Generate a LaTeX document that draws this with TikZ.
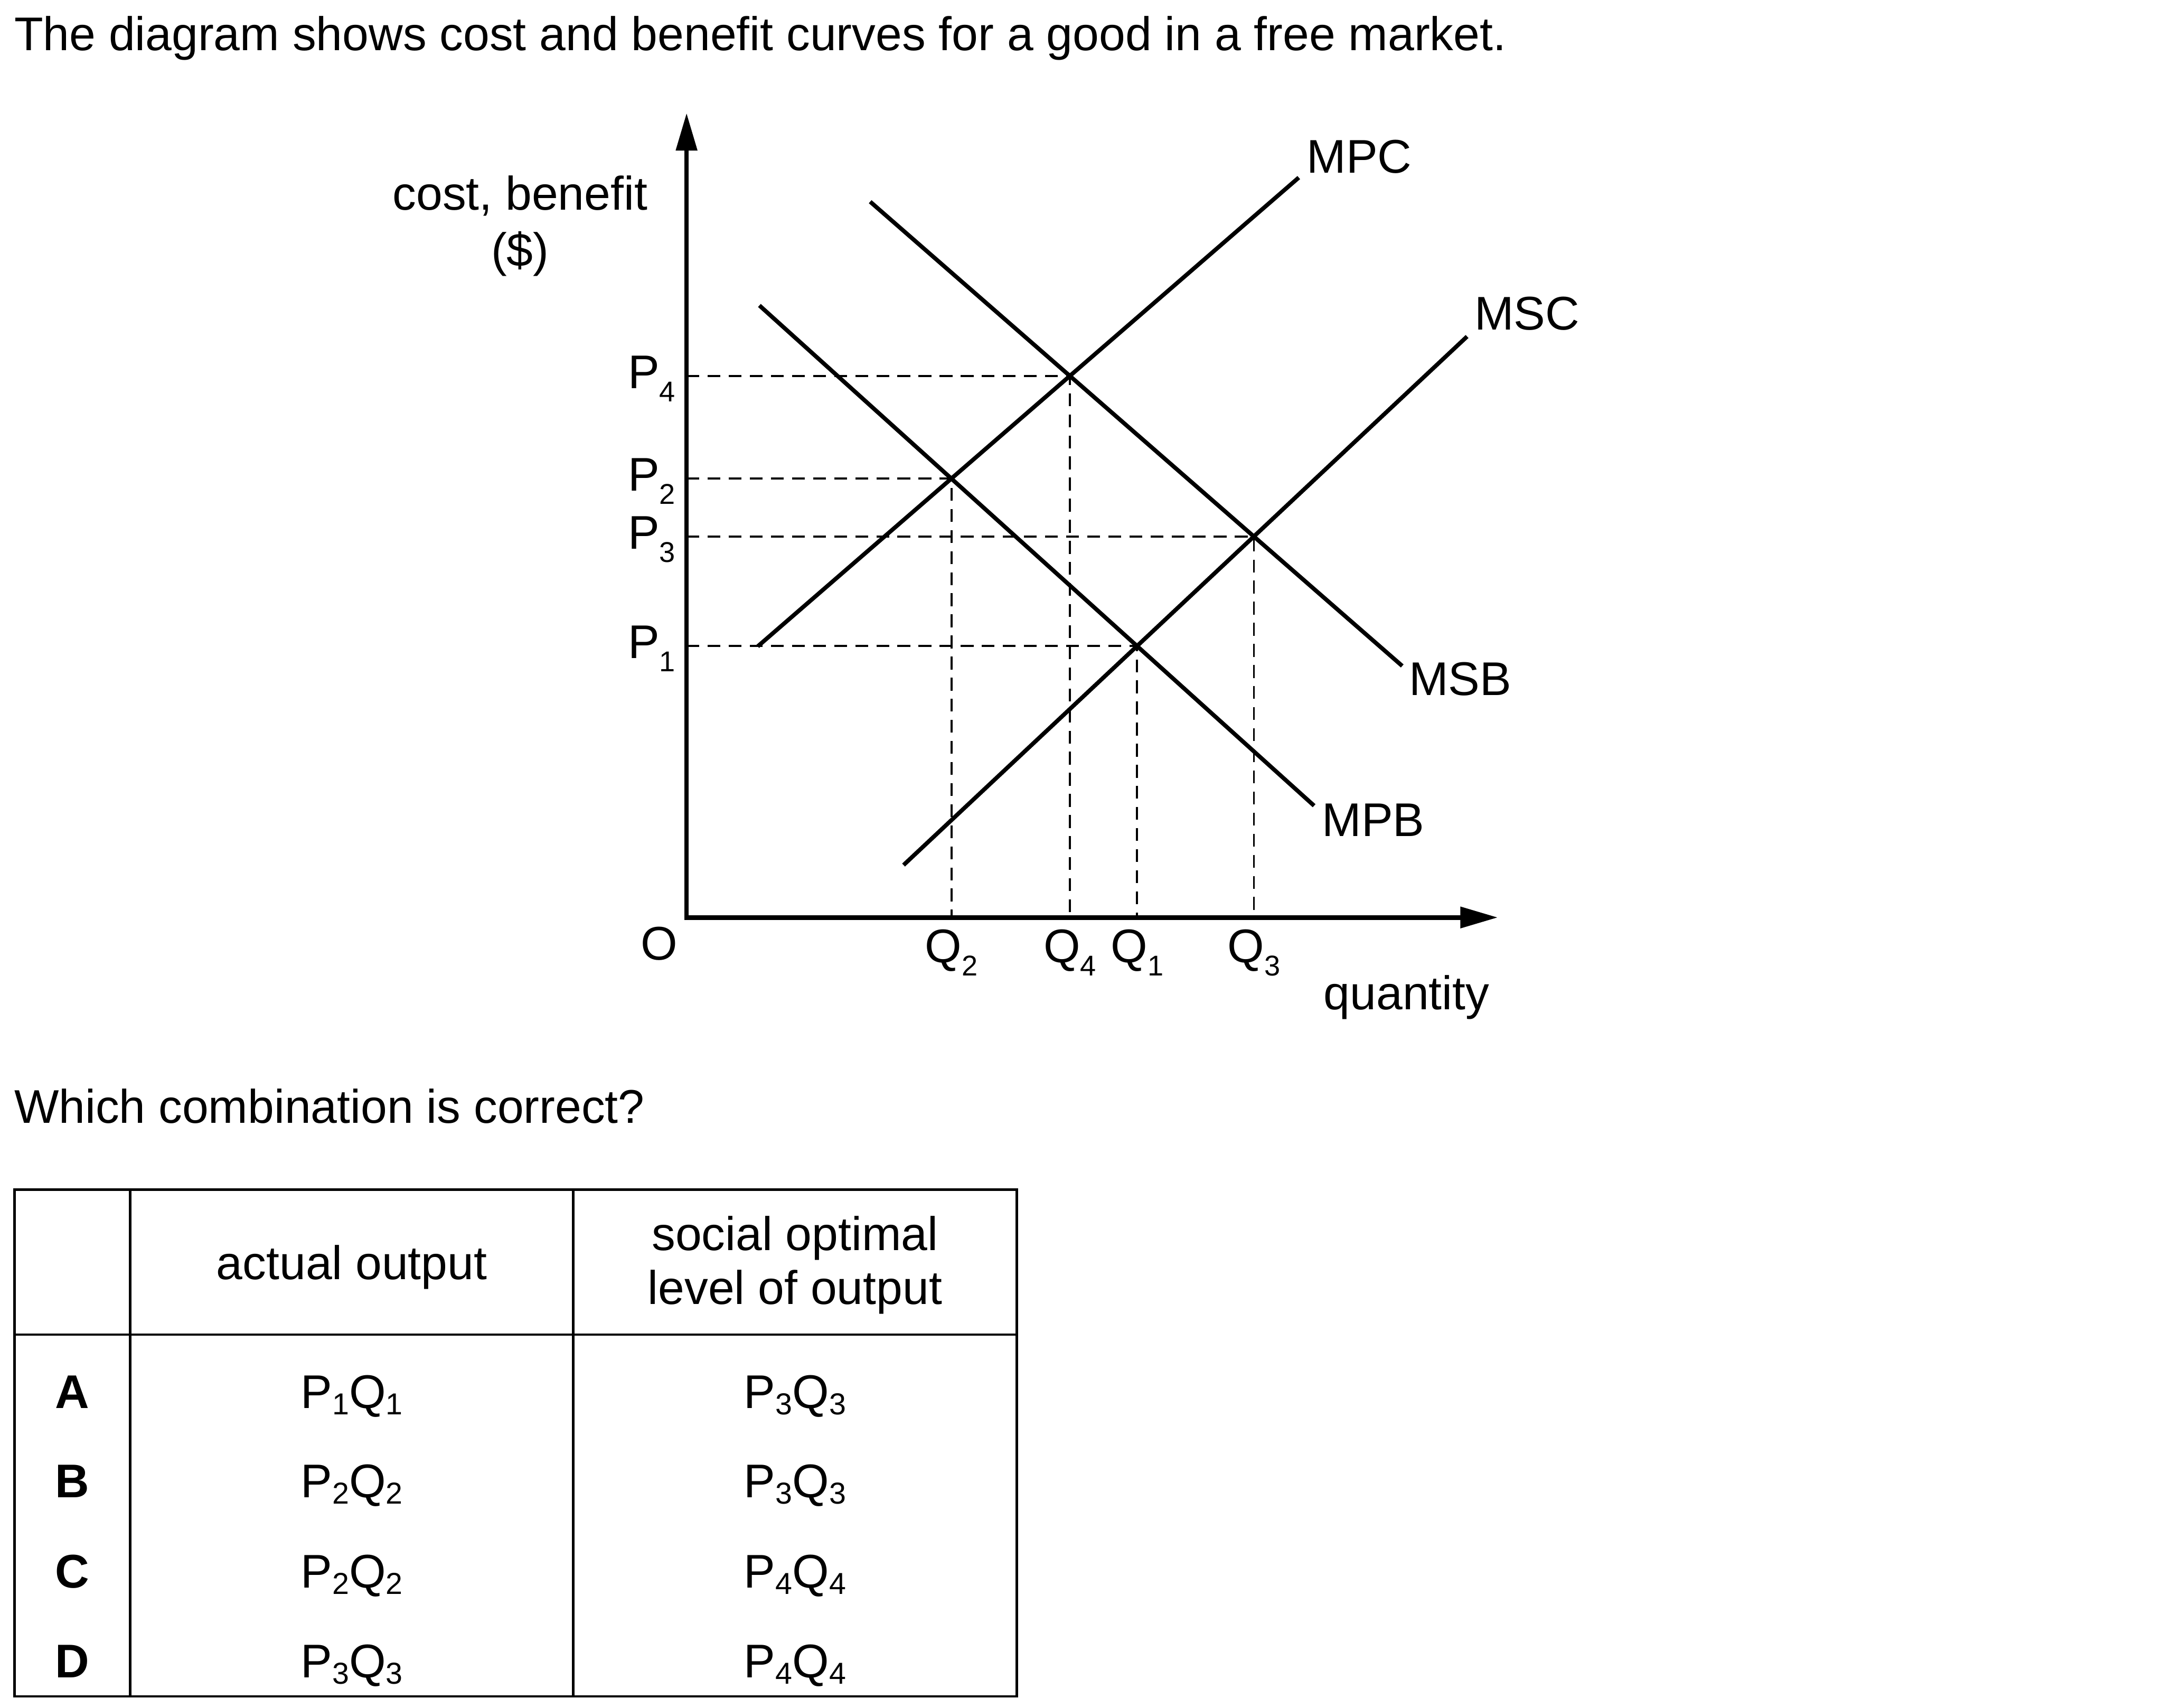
\documentclass[tikz,border=0pt]{standalone}
\usepackage{fontspec}
\setmainfont{Liberation Sans}
\usetikzlibrary{arrows.meta, calc}
\newcommand{\lowidx}[1]{\raisebox{-5.4pt}{\fontsize{11.8}{12}\selectfont #1}}
\newcommand{\tabidx}[1]{\raisebox{-2.6pt}{\fontsize{12.5}{13}\selectfont #1}}

\begin{document}
\begin{tikzpicture}[
  x=0.02cm, y=-0.02cm,
  txt/.style={font=\fontsize{19.5}{23.4}\selectfont, inner sep=0pt},
  boldtxt/.style={font=\fontsize{19.5}{23.4}\selectfont\bfseries, inner sep=0pt},
  axis/.style={line width=1.9pt, {Triangle[length=15.5pt, width=8.5pt]}-{Triangle[length=15.5pt, width=8.5pt]}},
  curve/.style={line width=1.7pt},
  guide/.style={line width=0.85pt, dash pattern=on 5.3pt off 3.4pt},
  rule/.style={line width=1pt},
]
\useasboundingbox (0,0) rectangle (1568,1238);

% --- Question text ---
\node[txt, anchor=base west] (title) at (10,36.7) {The diagram shows cost and benefit curves for a good in a free market.};
\node[txt, anchor=base west] (ask) at (10,814) {Which combination is correct?};

% --- Axes ---
\coordinate (O) at (497.7,665);
\coordinate (ytop) at (497.7,81.9);
\coordinate (xend) at (1085.8,665);
\draw[axis] (ytop) -- (O) -- (xend);
\node[txt] (olbl) at (478,684) {O};
\node[txt, anchor=base] (ylbl) at (377,152) {cost, benefit};
\node[txt, anchor=base] (ylbl2) at (377,193) {(\$)};
\node[txt, anchor=base west] (xlbl) at (959.3,731.6) {quantity};

% --- Curves ---
\coordinate (mpc0) at (549.3,468.5);  \coordinate (mpc1) at (941.5,128.7);
\coordinate (msc0) at (655,627);      \coordinate (msc1) at (1063.5,243.9);
\coordinate (msb0) at (630.8,146.2);  \coordinate (msb1) at (1016.5,482.7);
\coordinate (mpb0) at (550.5,221.4);  \coordinate (mpb1) at (952.6,584);
\draw[curve] (mpc0) -- (mpc1);
\draw[curve] (msc0) -- (msc1);
\draw[curve] (msb0) -- (msb1);
\draw[curve] (mpb0) -- (mpb1);
\node[txt, anchor=base west] (mpclbl) at (947,125.4) {MPC};
\node[txt, anchor=base west] (msclbl) at (1068.5,238.9) {MSC};
\node[txt, anchor=base west] (msblbl) at (1021,504) {MSB};
\node[txt, anchor=base west] (mpblbl) at (958,606) {MPB};

% intersections
\coordinate (e1) at (intersection of msc0--msc1 and mpb0--mpb1);
\coordinate (e2) at (intersection of mpc0--mpc1 and mpb0--mpb1);
\coordinate (e3) at (intersection of msc0--msc1 and msb0--msb1);
\coordinate (e4) at (intersection of mpc0--mpc1 and msb0--msb1);

% --- Guides and price / quantity labels ---
\foreach \n in {1,...,4}{
  \draw[guide] (e\n -| O) -- (e\n) -- (e\n |- O);
  \node[txt, anchor=base east] (plbl\n) at ($(e\n -| O)+(-7.7,9)$) {P\lowidx{\n}};
  \node[txt, anchor=base] (qlbl\n) at ($(e\n |- O)+(0,32.6)$) {Q\lowidx{\n}};
}

% --- Table ---
\draw[rule] (10.5,862.2) rectangle (737,1229.5);
\draw[rule] (10.5,967.3) -- (737,967.3);
\draw[rule] (94.3,862.2) -- (94.3,1229.5);
\draw[rule] (415.6,862.2) -- (415.6,1229.5);
\node[txt, anchor=base] (hact) at (255,927.4) {actual output};
\node[txt, anchor=base] (hopt) at (576.3,906.3) {social optimal};
\node[txt, anchor=base] (hopt2) at (576.3,945.2) {level of output};
\foreach \r/\y/\a/\b in {A/1020.6/1/3, B/1085.6/2/3, C/1150.8/2/4, D/1216/3/4}{
  \node[boldtxt, anchor=base] (row\r) at (52.4,\y) {\r};
  \node[txt, anchor=base] (act\r) at (255,\y) {P\tabidx{\a}Q\tabidx{\a}};
  \node[txt, anchor=base] (opt\r) at (576.3,\y) {P\tabidx{\b}Q\tabidx{\b}};
}
\end{tikzpicture}
\end{document}
